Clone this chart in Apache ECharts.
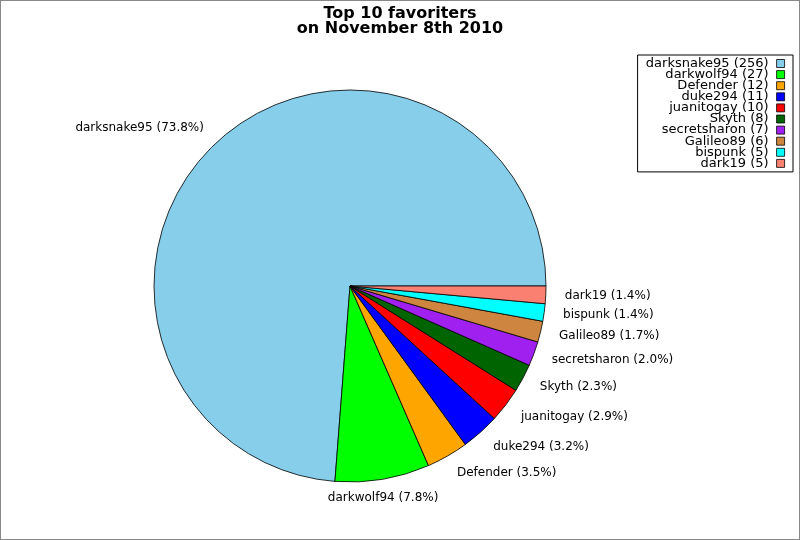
<!DOCTYPE html>
<html>
<head>
<meta charset="utf-8">
<script src="https://cdn.jsdelivr.net/npm/echarts@6/dist/echarts.min.js"></script>
<style>
html,body{margin:0;padding:0;background:#fff;}
#c{width:798px;height:538px;border:1px solid #888;background:#fff;}
</style>
</head>
<body>
<div id="c"></div>
<script>
const names = ['darksnake95','darkwolf94','Defender','duke294','juanitogay','Skyth','secretsharon','Galileo89','bispunk','dark19'];
const counts = [256,27,12,11,10,8,7,6,5,5];
const colors = ['#87ceeb','#00ff00','#ffa500','#0000ff','#ff0000','#006400','#a020f0','#cd853f','#00ffff','#fa8072'];
const titleLines = ['Top 10 favoriters','on November 8th 2010'];

const total = counts.reduce((a,b)=>a+b,0);
const data = names.map((n,i)=>{
  const d = {name:n, value:counts[i], itemStyle:{color:colors[i]}};
  if (n === 'darkwolf94') d.labelLine = {show:false, length:19, length2:-58};
  return d;
});
const FONT = 'DejaVu Sans';

const chart = echarts.init(document.getElementById('c'), null, {renderer:'canvas'});
chart.setOption({
  animation:false,
  backgroundColor:'#fff',
  title:{
    text: titleLines.join('\n'),
    left:'center', top:0,
    textStyle:{fontFamily:FONT, fontWeight:'bold', fontSize:16, lineHeight:15, color:'#000'}
  },
  legend:{
    orient:'vertical',
    right:6, top:54,
    align:'right',
    borderColor:'#000', borderWidth:1, borderRadius:0,
    padding:[2,8,2,8],
    itemWidth:8, itemHeight:8, itemGap:-1.9,
    icon:'rect',
    itemStyle:{borderColor:'#000', borderWidth:0.8},
    formatter: function(n){ return '{t|' + n + ' (' + counts[names.indexOf(n)] + ')}'; },
    textStyle:{
      fontFamily:FONT, fontSize:13, color:'#000', lineHeight:11,
      rich:{ t:{ width:123, align:'right', padding:[0,3,0,0], fontFamily:FONT, fontSize:13, lineHeight:11, color:'#000'} }
    },
    data: names
  },
  series:[{
    type:'pie',
    center:[349,285],
    radius:196,
    startAngle:0,
    clockwise:false,
    avoidLabelOverlap:false,
    minShowLabelAngle:0,
    itemStyle:{borderColor:'#000', borderWidth:0.8},
    label:{
      show:true, position:'outside',
      fontFamily:FONT, fontSize:12, color:'#000',
      distanceToLabelLine:0,
      formatter: function(p){ return p.name + ' (' + (p.value/total*100).toFixed(1) + '%)'; }
    },
    labelLine:{show:false, length:19, length2:0},
    emphasis:{disabled:true},
    data: data
  }]
});
</script>
</body>
</html>
